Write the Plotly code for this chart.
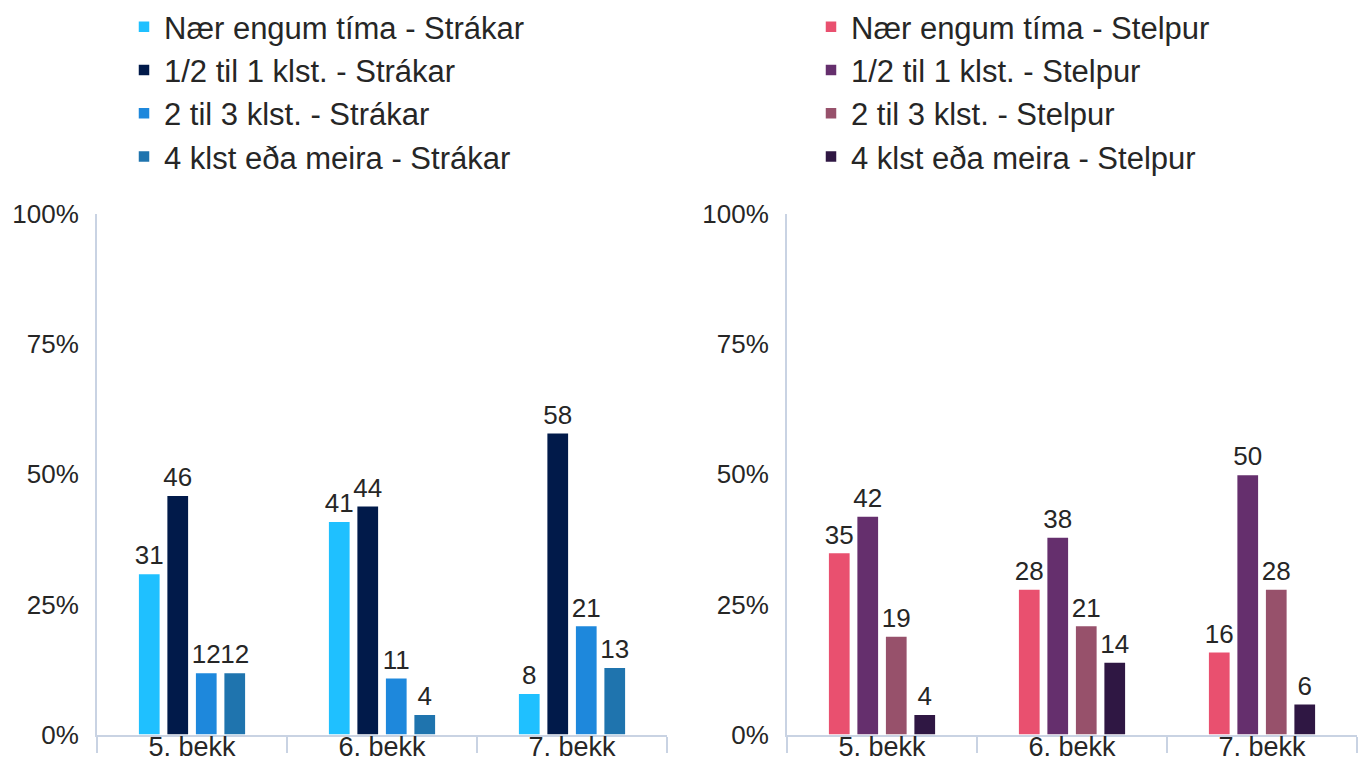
import plotly.graph_objects as go

W, H = 1366, 763

categories = ["5. bekk", "6. bekk", "7. bekk"]

boys_names = ["Nær engum tíma - Strákar", "1/2 til 1 klst. - Strákar",
              "2 til 3 klst. - Strákar", "4 klst eða meira - Strákar"]
girls_names = ["Nær engum tíma - Stelpur", "1/2 til 1 klst. - Stelpur",
               "2 til 3 klst. - Stelpur", "4 klst eða meira - Stelpur"]

boys_none = [31, 41, 8]
boys_half = [46, 44, 58]
boys_2to3 = [12, 11, 21]
boys_4plus = [12, 4, 13]

girls_none = [35, 28, 16]
girls_half = [42, 38, 50]
girls_2to3 = [19, 21, 28]
girls_4plus = [4, 14, 6]

boys_colors = ["#1fc0ff", "#011a4a", "#1e88dc", "#1f74ae"]
girls_colors = ["#e9506f", "#652f6d", "#97516b", "#2f1743"]

y_ticks = [0, 25, 50, 75, 100]
y_ticktext = ["0%", "25%", "50%", "75%", "100%"]

FONT = "Liberation Sans, Arial, sans-serif"
TXT = "#262626"
AXC = "#c9d3e3"

fig = go.Figure()

boys = [boys_none, boys_half, boys_2to3, boys_4plus]
girls = [girls_none, girls_half, girls_2to3, girls_4plus]

for i, (name, vals, col) in enumerate(zip(boys_names, boys, boys_colors)):
    fig.add_trace(go.Bar(
        x=categories, y=vals, name=name, marker=dict(color=col, line=dict(color="white", width=1.5)),
        text=[str(v) for v in vals], texttemplate="%{text}", textposition="outside", constraintext="none",
        textfont=dict(family=FONT, size=26, color=TXT), cliponaxis=False,
        xaxis="x", yaxis="y", legend="legend", legendgroup="b%d" % i, hoverinfo="skip"))

for i, (name, vals, col) in enumerate(zip(girls_names, girls, girls_colors)):
    fig.add_trace(go.Bar(
        x=categories, y=vals, name=name, marker=dict(color=col, line=dict(color="white", width=1.5)),
        text=[str(v) for v in vals], texttemplate="%{text}", textposition="outside", constraintext="none",
        textfont=dict(family=FONT, size=26, color=TXT), cliponaxis=False,
        xaxis="x2", yaxis="y2", legend="legend2", legendgroup="g%d" % i, hoverinfo="skip"))

ydom = [(H - 735) / H, (H - 213) / H]

xcommon = dict(type="category", showline=True, linecolor=AXC, linewidth=2,
               ticks="outside", tickson="boundaries", ticklen=16, tickwidth=2, tickcolor=AXC,
               tickfont=dict(family=FONT, size=27, color=TXT), ticklabelstandoff=-13,
               showgrid=False, zeroline=False, automargin=False, fixedrange=True)
ycommon = dict(range=[0, 100], tickmode="array", tickvals=y_ticks, ticktext=y_ticktext, showline=True,
               linecolor=AXC, linewidth=2, ticks="", showgrid=False, zeroline=False,
               tickfont=dict(family=FONT, size=26, color=TXT), ticklabelstandoff=11,
               domain=ydom, automargin=False, fixedrange=True)

legcommon = dict(font=dict(family=FONT, size=31, color=TXT), bgcolor="rgba(0,0,0,0)",
                 yanchor="top", xanchor="left", tracegroupgap=0, orientation="v")

fig.update_layout(
    width=W, height=H,
    margin=dict(l=0, r=0, t=0, b=0),
    paper_bgcolor="white", plot_bgcolor="white",
    barmode="group", bargap=0.4, bargroupgap=0.22,
    xaxis=dict(domain=[97 / W, 667 / W], anchor="y", **xcommon),
    yaxis=dict(anchor="x", **ycommon),
    xaxis2=dict(domain=[787 / W, 1357 / W], anchor="y2", **xcommon),
    yaxis2=dict(anchor="x2", **ycommon),
    legend=dict(x=124 / W, y=1 + 1 / H, **legcommon),
    legend2=dict(x=811 / W, y=1 + 1 / H, **legcommon),
    showlegend=True,
)

fig.write_html("out.html", config={"displayModeBar": False},
               post_script="document.body.style.margin='0';document.body.style.overflow='hidden';")
